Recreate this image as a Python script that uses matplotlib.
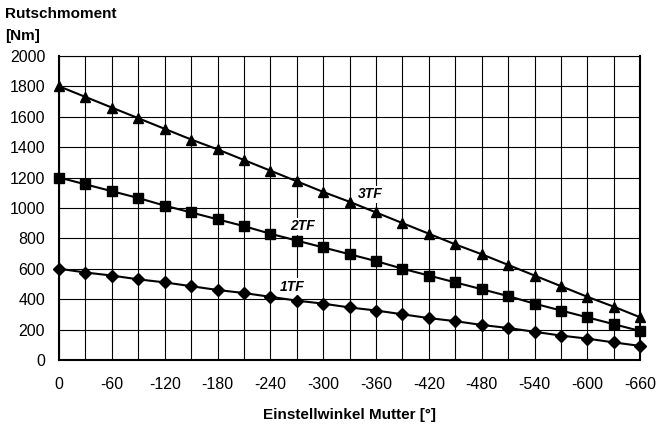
import matplotlib
matplotlib.use("Agg")
import matplotlib.pyplot as plt
import numpy as np

plt.rcParams['font.family'] = ['Liberation Sans', 'DejaVu Sans']
plt.rcParams['axes.unicode_minus'] = False

# Einstellwinkel Mutter [deg]
winkel = [0, -30, -60, -90, -120, -150, -180, -210, -240, -270, -300, -330,
          -360, -390, -420, -450, -480, -510, -540, -570, -600, -630, -660]

# Rutschmoment [Nm]
tf3 = [1800, 1730, 1660, 1590, 1520, 1450, 1385, 1315, 1245, 1175, 1105, 1040,
       970, 900, 830, 760, 695, 625, 555, 485, 415, 350, 280]
tf2 = [1200, 1155, 1110, 1065, 1015, 970, 925, 880, 830, 785, 740, 695,
       650, 600, 555, 510, 465, 420, 370, 325, 280, 235, 190]
tf1 = [600, 575, 555, 530, 510, 485, 460, 440, 415, 390, 370, 345,
       325, 300, 275, 255, 230, 210, 185, 160, 140, 115, 92]

fig = plt.figure(figsize=(6.56, 4.30), dpi=100)
ax = fig.add_axes([0.09, 0.163, 0.886, 0.707])

ax.plot(winkel, tf3, color='black', lw=1.5, marker='^', ms=7.5, zorder=3, clip_on=False)
ax.plot(winkel, tf2, color='black', lw=1.5, marker='s', ms=7, zorder=3, clip_on=False)
ax.plot(winkel, tf1, color='black', lw=1.5, marker='D', ms=6, zorder=3, clip_on=False)

ax.set_xlim(0, -660)
ax.set_ylim(0, 2000)
ax.set_xticks(np.arange(0, -661, -60))
ax.set_xticks(np.arange(0, -661, -30), minor=True)
ax.set_yticks(np.arange(0, 2001, 200))
ax.grid(True, which='both', color='black', lw=0.8)
ax.set_axisbelow(True)
ax.tick_params(which='both', length=0, labelsize=11.5)
ax.tick_params(axis='x', pad=12)
ax.tick_params(axis='y', pad=10)

for s in ax.spines.values():
    s.set_linewidth(1.5)
ax.spines['top'].set_linewidth(0.8)

box = dict(facecolor='white', edgecolor='none', pad=1)
ax.text(-353, 1089, '3TF', fontsize=10, fontweight='bold', style='italic',
        ha='center', va='center', bbox=box, zorder=2)
ax.text(-276, 878, '2TF', fontsize=10, fontweight='bold', style='italic',
        ha='center', va='center', bbox=box, zorder=2)
ax.text(-265, 482, '1TF', fontsize=10, fontweight='bold', style='italic',
        ha='center', va='center', bbox=box, zorder=2)

ax.set_xlabel('Einstellwinkel Mutter [°]', fontsize=11, fontweight='bold', labelpad=12)
fig.text(0.008, 0.967, 'Rutschmoment', fontsize=11, fontweight='bold', va='center')
fig.text(0.008, 0.916, '[Nm]', fontsize=11, fontweight='bold', va='center')

fig.savefig('out.png', dpi=100)
